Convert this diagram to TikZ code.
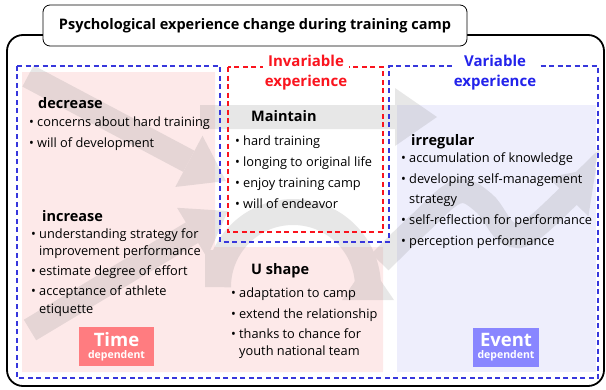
\documentclass[tikz,border=0pt]{standalone}
\usepackage{fontspec}
\setmainfont{Open Sans}
\usetikzlibrary{arrows.meta}
\definecolor{pinkbg}{RGB}{253,233,233}
\definecolor{lavbg}{RGB}{238,238,252}
\definecolor{dashblue}{RGB}{55,55,220}
\definecolor{invred}{RGB}{250,20,30}
\definecolor{varblue}{RGB}{35,35,235}
\definecolor{timefill}{RGB}{255,124,128}
\definecolor{eventfill}{RGB}{137,134,255}
\newcommand{\bul}{\makebox[8pt][l]{\textbullet}}
\newcommand{\cnt}{\hspace*{8pt}}

\begin{document}
\begin{tikzpicture}[x=1pt,y=-1pt,
	heading/.style={anchor=base west,inner sep=0pt,font=\fontsize{14.5}{16}\selectfont\bfseries},
	itemlist/.style={anchor=north west,inner sep=0pt,align=left,font=\fontsize{12.8}{17.5}\selectfont},
	bigarrow/.style={line width=24pt,draw=gray,-{Triangle[length=42pt,width=58pt,line width=0pt]}},
	expbox/.style={dash pattern=on 5pt off 3.5pt,line width=1.1pt},
	explabel/.style={fill=white,inner sep=2pt,align=center,font=\fontsize{15}{20}\selectfont\bfseries},
	depbox/.style={minimum width=#1,minimum height=39pt,inner sep=0pt,text=white,align=center},
	depbox/.default=75pt]
	\useasboundingbox (0,0) rectangle (606,389);
	% frame and title
	\draw[line width=1.8pt,rounded corners=16pt] (7,35) rectangle (604,386);
	\node[draw,fill=white,line width=0.8pt,rounded corners=7pt,minimum width=424pt,minimum height=41pt,
		font=\fontsize{14.5}{16}\selectfont\bfseries] (title) at (255,25.5) {Psychological experience change during training camp};
	% background areas
	\fill[pinkbg] (22,72) -- (215,72) -- (215,247) -- (383,247) -- (383,372) -- (22,372) -- cycle;
	\fill[lavbg] (397,105) rectangle (596,372);
	% trend arrows
	\begin{scope}[transparency group,opacity=0.19]
	\draw[bigarrow] (28,76) -- (226,181);
	\draw[bigarrow] (200,117) -- (437,117);
	\draw[bigarrow] (30,330) -- (228,211);
	\draw[gray,line width=26pt] (218,250) -- (218,287) arc[start angle=180,end angle=360,radius=75] -- (368,298);
	\fill[gray] (342,300) -- (368,262) -- (394,300) -- cycle;
	\draw[bigarrow,line width=24pt,-{Triangle[length=40pt,width=56pt,line width=0pt]}]
		plot[smooth,tension=0.6] coordinates {(380,262) (418,225) (457,192) (484,203) (508,233) (534,228) (596,168)};
	\end{scope}
	% dashed boxes
	\draw[expbox,invred] (228,67) rectangle (383,232);
	\draw[expbox,dashblue] (17,66) -- (220,66) -- (220,242) -- (389,242) -- (389,66) -- (598,66) -- (598,378) -- (17,378) -- cycle;
	\node[explabel,text=invred] (invlabel) at (306,73) {Invariable\\experience};
	\node[explabel,text=varblue] (varlabel) at (495,73) {Variable\\experience};
	% time dependent
	\node[heading] (decrease) at (38,108) {decrease};
	\node[itemlist] (declist) at (29,116.3) {\bul concerns about hard training\\[3.5pt]
		\bul will of development};
	\node[heading] (increase) at (42,221) {increase};
	\node[itemlist] (inclist) at (31,228.3) {\bul understanding strategy for\\
		\cnt improvement performance\\[2.5pt]
		\bul estimate degree of effort\\[2.5pt]
		\bul acceptance of athlete\\
		\cnt etiquette};
	\node[heading] (ushape) at (251,274) {U shape};
	\node[itemlist] (ulist) at (231,287.3) {\bul adaptation to camp\\[3.5pt]
		\bul extend the relationship\\[2.5pt]
		\bul thanks to chance for\\
		\cnt youth national team};
	% invariable
	\node[heading] (maintain) at (251,121) {Maintain};
	\node[itemlist] (mainlist) at (235,135.3) {\bul hard training\\[3.5pt]
		\bul longing to original life\\[3.5pt]
		\bul enjoy training camp\\[3.5pt]
		\bul will of endeavor};
	% variable
	\node[heading] (irregular) at (411,145) {irregular};
	\node[itemlist] (irrlist) at (401,152.3) {\bul accumulation of knowledge\\[3.5pt]
		\bul developing self-management\\[3pt]
		\cnt strategy\\[3.5pt]
		\bul self-reflection for performance\\[3.5pt]
		\bul perception performance};
	% dependency tags
	\node[depbox,fill=timefill] (timetag) at (116.5,346.5) {{\fontsize{18.5}{19}\selectfont\bfseries Time}\\{\fontsize{10.5}{11}\selectfont\bfseries dependent}};
	\node[depbox=66pt,fill=eventfill] (eventtag) at (506,347) {{\fontsize{18.5}{19}\selectfont\bfseries Event}\\{\fontsize{10.5}{11}\selectfont\bfseries dependent}};
\end{tikzpicture}
\end{document}
